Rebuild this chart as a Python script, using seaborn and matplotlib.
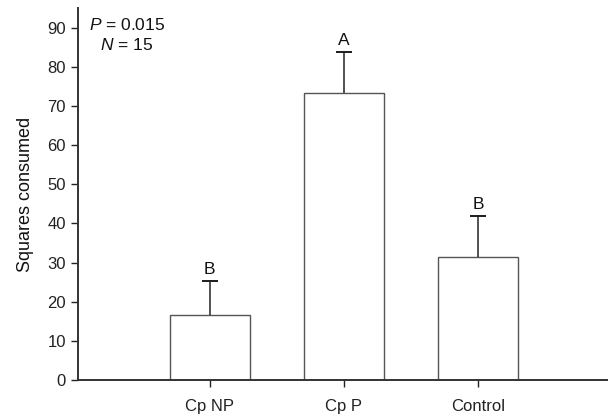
import pandas as pd
import seaborn as sns
import matplotlib.pyplot as plt

# values
groups = ['Cp NP', 'Cp P', 'Control']
means = [16.7, 73.3, 31.4]
errors = [8.6, 10.4, 10.4]
letters = ['B', 'A', 'B']

sns.set_style('ticks')
plt.rcParams['font.family'] = ['Liberation Sans', 'DejaVu Sans']
plt.rcParams['mathtext.fontset'] = 'custom'
plt.rcParams['mathtext.it'] = 'Liberation Sans:italic'
plt.rcParams['mathtext.rm'] = 'Liberation Sans'

df = pd.DataFrame({'group': groups, 'consumed': means})

fig = plt.figure(figsize=(6.08, 4.16), dpi=100)
ax = fig.add_axes([0.128, 0.0865, 0.872, 0.894])

sns.barplot(data=df, x='group', y='consumed', order=groups, color='white',
            edgecolor='#555555', linewidth=1.0, width=0.6, errorbar=None, ax=ax)

# upper-only error bars: stem plus a cap at the top
xs = list(range(len(groups)))
tops = [m + e for m, e in zip(means, errors)]
ax.vlines(xs, means, tops, color='#222222', linewidth=1.1)
ax.errorbar(xs, tops, yerr=[0] * len(xs), fmt='none', ecolor='#222222',
            elinewidth=0, capsize=6, capthick=1.4)

for i, (t, lab) in enumerate(zip(tops, letters)):
    ax.text(i, t + 1.0, lab, ha='center', va='bottom', fontsize=12.5, color='#111111')

ax.text(0.022, 0.955, r'$P$ = 0.015', transform=ax.transAxes, fontsize=12.5,
        ha='left', va='center', color='#111111')
ax.text(0.042, 0.9, r'$N$ = 15', transform=ax.transAxes, fontsize=12.5,
        ha='left', va='center', color='#111111')

ax.set_xlim(-0.985, 2.97)
ax.set_ylim(0, 95)
ax.set_yticks(range(0, 91, 10))
ax.set_xlabel('')
ax.set_ylabel('Squares consumed', fontsize=13, color='#111111', labelpad=10)
ax.tick_params(axis='both', labelsize=12, colors='#222222', direction='out', length=5, width=1)
ax.tick_params(axis='x', pad=9)

sns.despine(ax=ax)
for s in ['left', 'bottom']:
    ax.spines[s].set_linewidth(1.4)
    ax.spines[s].set_color('#333333')

fig.savefig('out.png', dpi=100)
